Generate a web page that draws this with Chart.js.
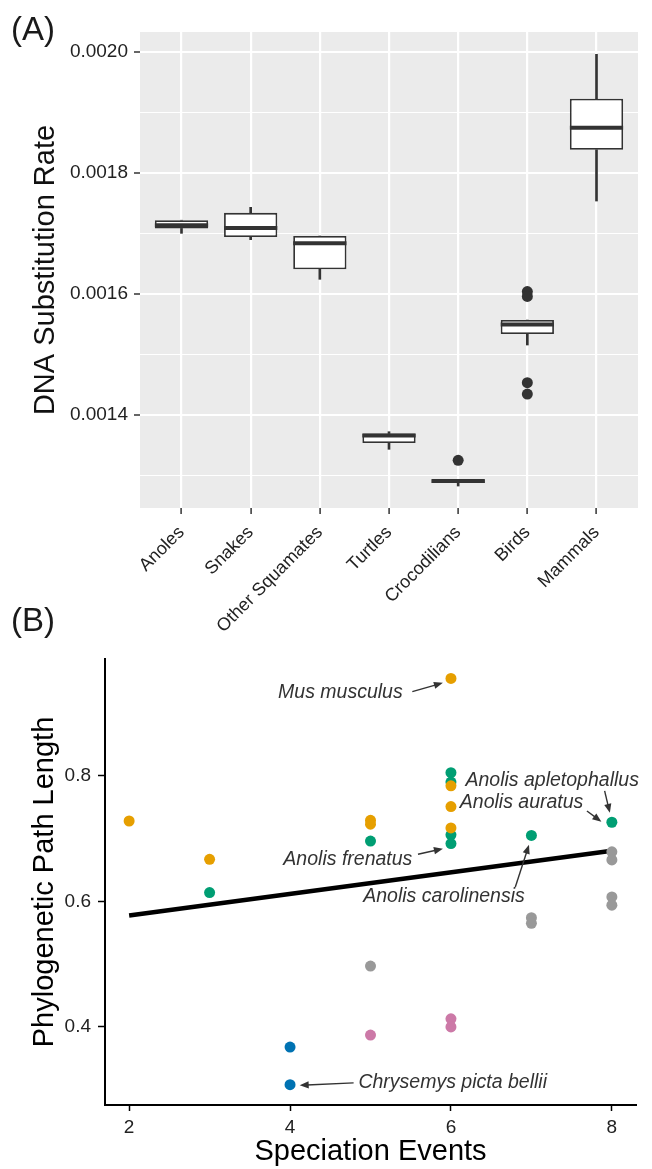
<!DOCTYPE html>
<html>
<head>
<meta charset="utf-8">
<title>DNA substitution rate and phylogenetic path length</title>
<script src="https://cdn.jsdelivr.net/npm/chart.js@4.4.1/dist/chart.umd.min.js"></script>
<style>
  body { margin: 0; background: #fff; }
  #page { position: relative; width: 652px; height: 1169px; overflow: hidden; font-family: "Liberation Sans", Arial, sans-serif; }
  canvas { position: absolute; left: 0; }
  #chartA { top: 0; }
  #chartB { top: 620px; }
  .panel-tag { position: absolute; left: 11px; font-size: 33px; line-height: 1; color: #1a1a1a; }
</style>
</head>
<body>
<div id="page">
  <canvas id="chartA" width="652" height="640"></canvas>
  <canvas id="chartB" width="652" height="549"></canvas>
  <div class="panel-tag" style="top:12px">(A)</div>
  <div class="panel-tag" style="top:603px">(B)</div>
</div>
<script>
/* ---- Panel A: substitution rate per clade (box plot summaries) ---- */
const clades      = ['Anoles', 'Snakes', 'Other Squamates', 'Turtles', 'Crocodilians', 'Birds', 'Mammals'];
const whiskerLow  = [0.0017003, 0.0016898, 0.0016243, 0.0013433, 0.0012826, 0.0015157, 0.0017537];
const boxQ1       = [0.0017084, 0.0016942, 0.0016408, 0.0013537, 0.0012876, 0.0015339, 0.0018385];
const boxMedian   = [0.0017135, 0.0017091, 0.0016840, 0.0013661, 0.0012909, 0.0015496, 0.0018749];
const boxQ3       = [0.0017220, 0.0017342, 0.0016959, 0.0013694, 0.0012934, 0.0015570, 0.0019228];
const whiskerHigh = [0.0017220, 0.0017433, 0.0016959, 0.0013724, 0.0012934, 0.0015570, 0.0019962];
const outlierClade = ['Crocodilians', 'Birds', 'Birds', 'Birds', 'Birds'];
const outlierRate  = [0.0013251, 0.0016040, 0.0015960, 0.0014534, 0.0014347];
const rateGrid   = [0.0013, 0.0014, 0.0015, 0.0016, 0.0017, 0.0018, 0.0019, 0.0020];
const rateLabels = [0.0014, 0.0016, 0.0018, 0.0020];

/* ---- Panel B: path length vs speciation events ---- */
const eventTicks   = [2, 4, 6, 8];
const pathTicks    = [0.4, 0.6, 0.8];
const mammalEvents = [2, 3, 5, 5, 6, 6, 6, 6];
const mammalPath   = [0.728, 0.667, 0.729, 0.723, 0.955, 0.784, 0.751, 0.717];
const anoleEvents  = [3, 5, 6, 6, 6, 6, 7, 8];
const anolePath    = [0.614, 0.696, 0.805, 0.790, 0.706, 0.692, 0.705, 0.726];
const birdEvents   = [5, 7, 7, 8, 8, 8, 8];
const birdPath     = [0.497, 0.574, 0.565, 0.679, 0.666, 0.607, 0.594];
const crocEvents   = [5, 6, 6];
const crocPath     = [0.387, 0.413, 0.400];
const turtleEvents = [4, 4];
const turtlePath   = [0.368, 0.308];
const fitEvents    = [2, 8];
const fitPath      = [0.5775, 0.6805];

// species labels: text anchor and arrow in data units
const speciesNotes = [
    { text: 'Mus musculus',           at: [5.40, 0.933], align: 'right', from: [5.52, 0.934], to: [5.90, 0.948] },
    { text: 'Anolis apletophallus',   at: [6.18, 0.793], align: 'left',  from: [7.91, 0.776], to: [7.975, 0.741] },
    { text: 'Anolis auratus',         at: [6.11, 0.757], align: 'left',  from: [7.69, 0.744], to: [7.87, 0.727] },
    { text: 'Anolis frenatus',        at: [5.52, 0.666], align: 'right', from: [5.59, 0.675], to: [5.90, 0.684] },
    { text: 'Anolis carolinensis',    at: [4.91, 0.608], align: 'left',  from: [6.80, 0.623], to: [6.97, 0.690] },
    { text: 'Chrysemys picta bellii', at: [4.85, 0.311], align: 'left',  from: [4.79, 0.311], to: [4.12, 0.307] },
];

Chart.defaults.font.family = '"Liberation Sans", Arial, Helvetica, sans-serif';
Chart.defaults.color = '#222';

const pts = (xs, ys) => xs.map((x, i) => ({ x, y: ys[i] }));
const isMajorRate = v => rateLabels.some(r => Math.abs(r - v) < 1e-9);

const plotBackground = {
    id: 'plotBackground',
    beforeDraw(chart, args, opts) {
        const { ctx, chartArea: a } = chart;
        ctx.save();
        ctx.fillStyle = opts.color;
        ctx.fillRect(a.left, a.top, a.right - a.left, a.bottom - a.top);
        ctx.restore();
    }
};

// thick median bar across each box
const medianLines = {
    id: 'medianLines',
    afterDatasetsDraw(chart) {
        const idx = chart.data.datasets.findIndex(d => d.label === 'box');
        const bars = chart.getDatasetMeta(idx).data;
        const y = chart.scales.y, ctx = chart.ctx;
        ctx.save();
        ctx.strokeStyle = '#333';
        ctx.lineWidth = 4;
        bars.forEach((bar, i) => {
            const py = y.getPixelForValue(boxMedian[i]);
            ctx.beginPath();
            ctx.moveTo(bar.x - bar.width / 2, py);
            ctx.lineTo(bar.x + bar.width / 2, py);
            ctx.stroke();
        });
        ctx.restore();
    }
};

function drawArrow(ctx, x1, y1, x2, y2) {
    const a = Math.atan2(y2 - y1, x2 - x1), head = 9, half = 3.6;
    ctx.beginPath();
    ctx.moveTo(x1, y1);
    ctx.lineTo(x2 - Math.cos(a) * head * 0.8, y2 - Math.sin(a) * head * 0.8);
    ctx.stroke();
    ctx.beginPath();
    ctx.moveTo(x2, y2);
    ctx.lineTo(x2 - head * Math.cos(a) + half * Math.sin(a), y2 - head * Math.sin(a) - half * Math.cos(a));
    ctx.lineTo(x2 - head * Math.cos(a) - half * Math.sin(a), y2 - head * Math.sin(a) + half * Math.cos(a));
    ctx.closePath();
    ctx.fill();
}

const speciesLabels = {
    id: 'speciesLabels',
    afterDatasetsDraw(chart) {
        const { ctx, scales: { x, y } } = chart;
        ctx.save();
        ctx.fillStyle = '#333';
        ctx.strokeStyle = '#333';
        ctx.lineWidth = 1.4;
        ctx.font = 'italic 19.5px "Liberation Sans", Arial, sans-serif';
        ctx.textBaseline = 'middle';
        speciesNotes.forEach(n => {
            ctx.textAlign = n.align;
            ctx.fillText(n.text, x.getPixelForValue(n.at[0]), y.getPixelForValue(n.at[1]));
            drawArrow(ctx, x.getPixelForValue(n.from[0]), y.getPixelForValue(n.from[1]),
                           x.getPixelForValue(n.to[0]), y.getPixelForValue(n.to[1]));
        });
        ctx.restore();
    }
};

/* ---- chart A ---- */
new Chart(document.getElementById('chartA'), {
    type: 'bar',
    data: {
        datasets: [
            {
                type: 'scatter', label: 'outliers', order: 1,
                data: outlierClade.map((c, i) => ({ x: clades.indexOf(c) + 1, y: outlierRate[i] })),
                pointRadius: 5.5, pointBorderWidth: 0, backgroundColor: '#333',
            },
            {
                label: 'box', order: 2, grouped: false,
                data: clades.map((c, i) => ({ x: i + 1, y: [boxQ1[i], boxQ3[i]] })),
                backgroundColor: '#fff', borderColor: '#333', borderWidth: 1.8, borderSkipped: false,
                barPercentage: 0.77, categoryPercentage: 1,
            },
            {
                label: 'lower whisker', order: 3, grouped: false,
                data: clades.map((c, i) => ({ x: i + 1, y: [whiskerLow[i], boxQ1[i]] })),
                backgroundColor: '#333', borderWidth: 0, barThickness: 2, maxBarThickness: 2,
            },
            {
                label: 'upper whisker', order: 3, grouped: false,
                data: clades.map((c, i) => ({ x: i + 1, y: [boxQ3[i], whiskerHigh[i]] })),
                backgroundColor: '#333', borderWidth: 0, barThickness: 2, maxBarThickness: 2,
            },
        ]
    },
    options: {
        responsive: false, animation: false, events: [],
        layout: { padding: { top: 32, right: 14, left: 0, bottom: 0 } },
        plugins: { legend: { display: false }, tooltip: { enabled: false }, plotBackground: { color: '#EBEBEB' } },
        scales: {
            x: {
                type: 'linear', min: 0.4, max: 7.6, offset: false,
                afterBuildTicks: s => { s.ticks = clades.map((c, i) => ({ value: i + 1 })); },
                afterFit: s => { s.height = 132; },
                ticks: { autoSkip: false, minRotation: 45, maxRotation: 45, padding: 8, color: '#222',
                         font: { size: 18 }, callback: v => clades[v - 1] },
                grid: { offset: false, color: '#fff', lineWidth: 2.2, tickLength: 6, tickColor: '#333', tickWidth: 1.5 },
                border: { display: false },
            },
            y: {
                min: 0.0012463, max: 0.0020331, beginAtZero: false,
                afterBuildTicks: s => { s.ticks = rateGrid.map(v => ({ value: v })); },
                afterFit: s => { s.width = 140; },
                ticks: { padding: 6, color: '#222', font: { size: 19 },
                         callback: v => isMajorRate(v) ? v.toFixed(4) : '' },
                grid: {
                    color: '#fff',
                    lineWidth: c => isMajorRate(c.tick.value) ? 2 : 1.1,
                    tickLength: 6, tickWidth: 1.5,
                    tickColor: c => isMajorRate(c.tick.value) ? '#333' : 'rgba(0,0,0,0)',
                },
                border: { display: false },
                title: { display: true, text: 'DNA Substitution Rate', color: '#111', font: { size: 29 }, padding: { top: 29, bottom: 0 } },
            }
        }
    },
    plugins: [plotBackground, medianLines]
});

/* ---- chart B ---- */
const dot = (label, xs, ys, color, order) => ({
    label, order, data: pts(xs, ys),
    backgroundColor: color, pointRadius: 5.5, pointHoverRadius: 5.5, pointBorderWidth: 0,
});

new Chart(document.getElementById('chartB'), {
    type: 'scatter',
    data: {
        datasets: [
            dot('mammals', mammalEvents, mammalPath, '#E69F00', 1),
            dot('anoles', anoleEvents, anolePath, '#009E73', 2),
            dot('birds', birdEvents, birdPath, '#999999', 3),
            dot('crocodilians', crocEvents, crocPath, '#CC79A7', 4),
            dot('turtles', turtleEvents, turtlePath, '#0072B2', 5),
            { type: 'line', label: 'fit', order: 6, data: pts(fitEvents, fitPath),
              borderColor: '#000', borderWidth: 4.5, pointRadius: 0, borderCapStyle: 'butt' },
        ]
    },
    options: {
        responsive: false, animation: false, events: [],
        layout: { padding: { top: 39, right: 16, left: 0, bottom: 0 } },
        plugins: { legend: { display: false }, tooltip: { enabled: false } },
        scales: {
            x: {
                type: 'linear', min: 1.7, max: 8.3,
                afterBuildTicks: s => { s.ticks = eventTicks.map(v => ({ value: v })); },
                afterFit: s => { s.height = 64; },
                ticks: { padding: 5, color: '#222', font: { size: 19 } },
                grid: { drawOnChartArea: false, tickLength: 6, tickColor: '#000', tickWidth: 1.5 },
                border: { color: '#000', width: 2 },
                title: { display: true, text: 'Speciation Events', color: '#000', font: { size: 29 }, padding: { top: 0, bottom: 0 } },
            },
            y: {
                min: 0.2757, max: 0.986,
                afterBuildTicks: s => { s.ticks = pathTicks.map(v => ({ value: v })); },
                afterFit: s => { s.width = 105; },
                ticks: { padding: 7, color: '#222', font: { size: 19 }, callback: v => v.toFixed(1) },
                grid: { drawOnChartArea: false, tickLength: 7, tickColor: '#000', tickWidth: 1.5 },
                border: { color: '#000', width: 2 },
                title: { display: true, text: 'Phylogenetic Path Length', color: '#000', font: { size: 29 }, padding: { top: 28, bottom: 0 } },
            }
        }
    },
    plugins: [speciesLabels]
});
</script>
</body>
</html>
